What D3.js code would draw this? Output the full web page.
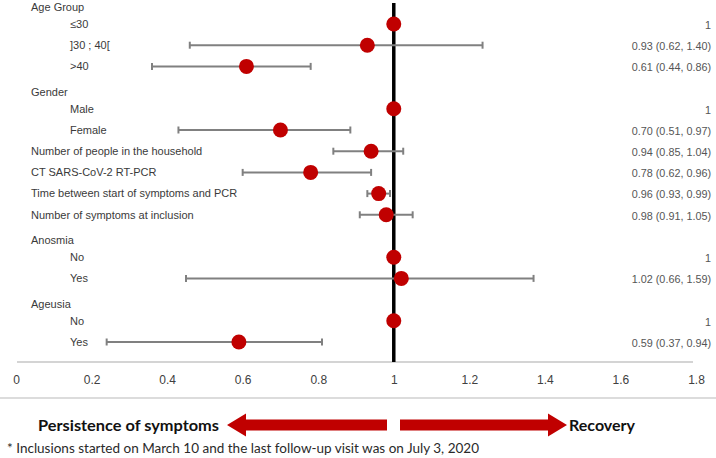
<!DOCTYPE html>
<html>
<head>
<meta charset="utf-8">
<script src="https://cdn.jsdelivr.net/npm/d3@7"></script>
<style>
  html, body { margin: 0; padding: 0; background: #ffffff; }
  svg { display: block; }
</style>
</head>
<body>
<div id="chart"></div>
<script>
// ---- data ----
const rowLabels = ["Age Group", "≤30", "]30 ; 40[", ">40", "Gender", "Male", "Female",
  "Number of people in the household", "CT SARS-CoV-2 RT-PCR",
  "Time between start of symptoms and PCR", "Number of symptoms at inclusion",
  "Anosmia", "No", "Yes", "Ageusia", "No", "Yes"];
// 0 = group header, 1 = sub-category, 2 = single variable
const rowKind = [0, 1, 1, 1, 0, 1, 1, 2, 2, 2, 2, 0, 1, 1, 0, 1, 1];
const estimate = [null, 1, 0.93, 0.61, null, 1, 0.70, 0.94, 0.78, 0.96, 0.98, null, 1, 1.02, null, 1, 0.59];
const ciLow  = [null, null, 0.46, 0.36, null, null, 0.43, 0.84, 0.60, 0.93, 0.91, null, null, 0.45, null, null, 0.24];
const ciHigh = [null, null, 1.235, 0.78, null, null, 0.885, 1.025, 0.94, 0.99, 1.05, null, null, 1.37, null, null, 0.81];
const estimateText = ["", "1", "0.93 (0.62, 1.40)", "0.61 (0.44, 0.86)", "", "1", "0.70 (0.51, 0.97)",
  "0.94 (0.85, 1.04)", "0.78 (0.62, 0.96)", "0.96 (0.93, 0.99)", "0.98 (0.91, 1.05)",
  "", "1", "1.02 (0.66, 1.59)", "", "1", "0.59 (0.37, 0.94)"];
const xTicks = [0, 0.2, 0.4, 0.6, 0.8, 1, 1.2, 1.4, 1.6, 1.8];
const leftLabel = "Persistence of symptoms";
const rightLabel = "Recovery";
const footnote = "* Inclusions started on March 10 and the last follow-up visit was on July 3, 2020";

// ---- layout ----
const W = 716, H = 458;
const svg = d3.select("#chart").append("svg").attr("width", W).attr("height", H)
  .style("font-family", "'Liberation Sans', Arial, sans-serif");

const x = d3.scaleLinear().domain([0, 1.8]).range([16, 696]);
const y = d3.scalePoint().domain(d3.range(rowLabels.length)).range([2.8, 342]);

const rows = rowLabels.map((label, i) => ({
  i, label, kind: rowKind[i], est: estimate[i], lo: ciLow[i], hi: ciHigh[i], txt: estimateText[i]
}));

// left labels
svg.append("g").selectAll("text").data(rows).join("text")
  .attr("x", d => d.kind === 1 ? 70 : 31)
  .attr("y", d => y(d.i) + (d.kind === 0 ? 4.5 : 0))
  .attr("dy", "0.35em")
  .attr("font-size", 11)
  .attr("fill", "#3a3a3a")
  .text(d => d.label);

// right estimate texts
svg.append("g").selectAll("text").data(rows.filter(d => d.txt)).join("text")
  .attr("x", 711)
  .attr("y", d => y(d.i) + 1)
  .attr("dy", "0.35em")
  .attr("text-anchor", "end")
  .attr("font-size", 10.8)
  .attr("fill", "#555555")
  .text(d => d.txt);

// axis baseline
svg.append("line")
  .attr("x1", 17).attr("x2", 693).attr("y1", 362).attr("y2", 362)
  .attr("stroke", "#d4d4d4").attr("stroke-width", 2);

// axis tick labels
const axis = svg.append("g").attr("transform", "translate(0,375)")
  .call(d3.axisBottom(x).tickValues(xTicks).tickSize(0).tickPadding(0).tickFormat(d3.format("~g")));
axis.select(".domain").remove();
axis.selectAll("text").attr("font-size", 12).attr("fill", "#404040")
  .attr("font-family", "'Liberation Sans', Arial, sans-serif");

// divider line
svg.append("line")
  .attr("x1", 0).attr("x2", W).attr("y1", 398).attr("y2", 398)
  .attr("stroke", "#dcdcdc").attr("stroke-width", 2);

// reference line at 1
svg.append("line")
  .attr("x1", x(1)).attr("x2", x(1)).attr("y1", 3).attr("y2", 362)
  .attr("stroke", "#000").attr("stroke-width", 3.5);

// error bars
const ci = rows.filter(d => d.lo != null);
const eb = svg.append("g").attr("stroke", "#808080").attr("stroke-width", 2);
eb.selectAll("line.bar").data(ci).join("line").attr("class", "bar")
  .attr("x1", d => x(d.lo)).attr("x2", d => x(d.hi))
  .attr("y1", d => y(d.i)).attr("y2", d => y(d.i));
eb.selectAll("line.capl").data(ci).join("line").attr("class", "capl")
  .attr("x1", d => x(d.lo)).attr("x2", d => x(d.lo))
  .attr("y1", d => y(d.i) - 3.5).attr("y2", d => y(d.i) + 3.5);
eb.selectAll("line.caph").data(ci).join("line").attr("class", "caph")
  .attr("x1", d => x(d.hi)).attr("x2", d => x(d.hi))
  .attr("y1", d => y(d.i) - 3.5).attr("y2", d => y(d.i) + 3.5);

// points
svg.append("g").selectAll("circle").data(rows.filter(d => d.est != null)).join("circle")
  .attr("cx", d => x(d.est)).attr("cy", d => y(d.i)).attr("r", 7.5)
  .attr("fill", "#c00000");

// arrows
const ay = 425, sh = 5.5, hh = 11.5;
svg.append("path")
  .attr("d", `M387,${ay - sh} L246,${ay - sh} L246,${ay - hh} L227,${ay} L246,${ay + hh} L246,${ay + sh} L387,${ay + sh} Z`)
  .attr("fill", "#c00000");
svg.append("path")
  .attr("d", `M400,${ay - sh} L548,${ay - sh} L548,${ay - hh} L567,${ay} L548,${ay + hh} L548,${ay + sh} L400,${ay + sh} Z`)
  .attr("fill", "#c00000");

svg.append("text").attr("x", 219).attr("y", ay).attr("dy", "0.35em")
  .attr("text-anchor", "end").attr("font-family", "Lato, 'Open Sans', sans-serif")
  .attr("font-weight", "bold").attr("font-size", 16).attr("fill", "#111")
  .attr("textLength", 181).attr("lengthAdjust", "spacingAndGlyphs")
  .text(leftLabel);
svg.append("text").attr("x", 569).attr("y", ay).attr("dy", "0.35em")
  .attr("font-family", "Lato, 'Open Sans', sans-serif")
  .attr("font-weight", "bold").attr("font-size", 16).attr("fill", "#111")
  .attr("textLength", 66).attr("lengthAdjust", "spacingAndGlyphs")
  .text(rightLabel);

svg.append("text").attr("x", 7).attr("y", 448).attr("dy", "0.35em")
  .attr("font-family", "Lato, 'Open Sans', sans-serif")
  .attr("font-size", 13.5).attr("fill", "#2a2a2a")
  .attr("textLength", 472).attr("lengthAdjust", "spacingAndGlyphs")
  .text(footnote);
</script>
</body>
</html>
